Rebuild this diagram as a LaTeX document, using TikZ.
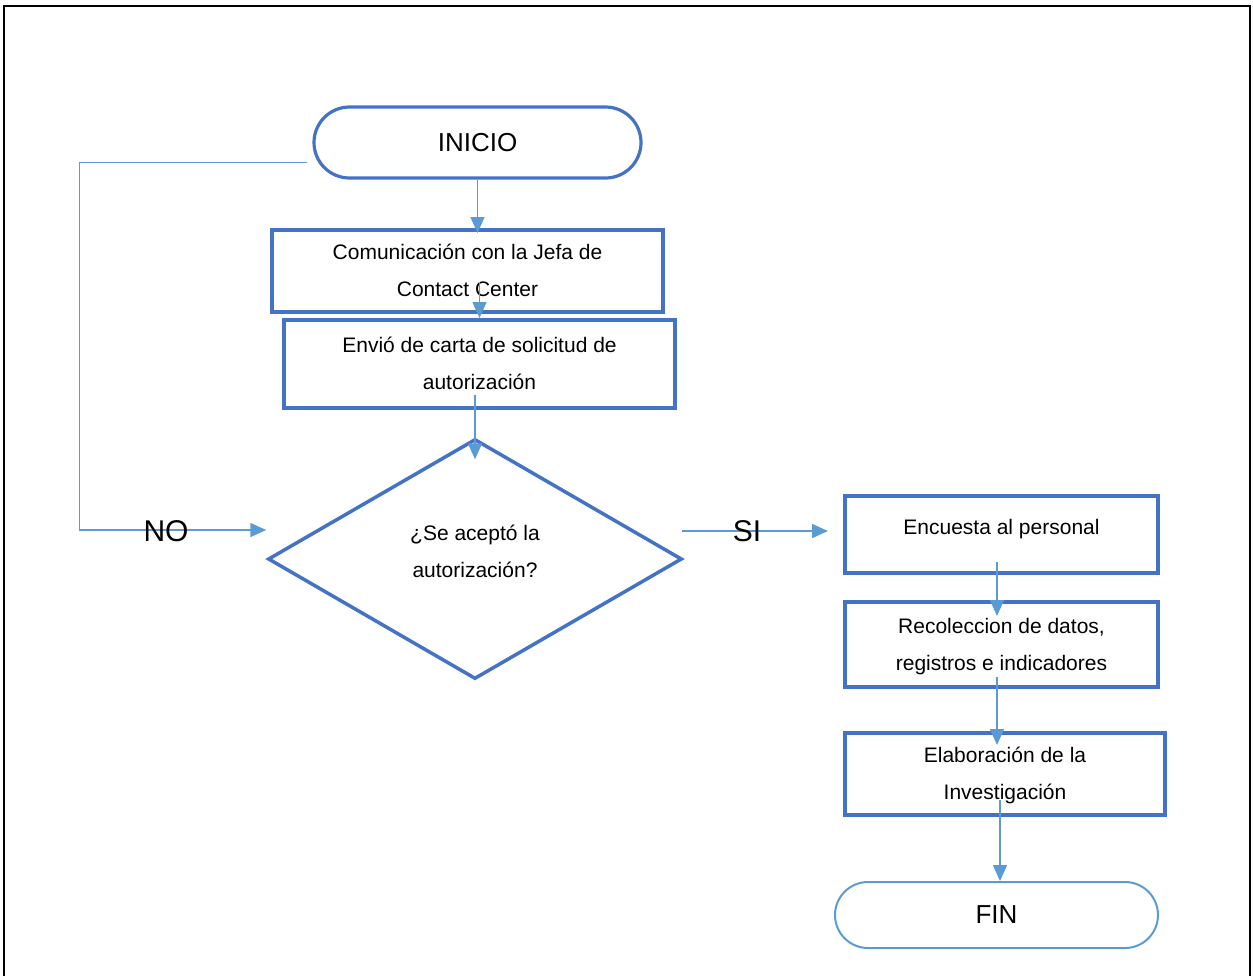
\documentclass[tikz,border=0pt]{standalone}
\usepackage{fontspec}
\setmainfont{Liberation Sans}
\usetikzlibrary{shapes.geometric,shapes.misc,arrows.meta,calc}
\definecolor{boxblue}{HTML}{4472C4}
\definecolor{arrblue}{HTML}{5B9BD5}
\newcommand\celltext[2][0pt]{\raisebox{#1}[\height][\depth]{\begin{tabular}{@{}c@{}}#2\end{tabular}}}
\begin{document}
\begin{tikzpicture}[x={(0.5pt,0)}, y={(0,-0.5pt)},
  procbox/.style={draw=boxblue, line width=2pt, rectangle, inner sep=0pt, font=\fontsize{10.5}{18.5}\selectfont},
  term/.style={rounded rectangle, draw=boxblue, line width=1.6pt, font=\fontsize{13}{15}\selectfont, inner sep=0pt},
  decision/.style={diamond, draw=boxblue, line width=1.75pt, inner sep=0pt, font=\fontsize{10.5}{18.5}\selectfont},
  arr/.style={draw=arrblue, line width=0.75pt, -{Triangle[length=8pt,width=7pt]}},
  lbl/.style={font=\fontsize{15}{17}\selectfont, inner sep=0pt}
]
\useasboundingbox (0,0) rectangle (1253,976);
\draw[line width=0.6pt] (4,976) -- (4,6) -- (1250,6) -- (1250,976);

\node[term, minimum width=163.5pt, minimum height=35.5pt] (inicio) at (477.5,142.5) {INICIO};
\node[procbox, minimum width=195.5pt, minimum height=41pt] (b1) at (467.5,271) {\celltext{Comunicación con la Jefa de\\Contact Center}};
\node[procbox, minimum width=195.5pt, minimum height=44pt] (b2) at (479.5,364) {\celltext{Envió de carta de solicitud de\\autorización}};
\node[decision, minimum width=207pt, minimum height=120pt] (dia) at (475,559) {\celltext[3.75pt]{¿Se aceptó la\\autorización?}};
\node[procbox, minimum width=156.5pt, minimum height=38.5pt] (b3) at (1001.5,534.5) {\celltext[3.75pt]{Encuesta al personal}};
\node[procbox, minimum width=156.5pt, minimum height=42.5pt] (b4) at (1001.5,644.5) {\celltext{Recoleccion de datos,\\registros e indicadores}};
\node[procbox, minimum width=160pt, minimum height=41pt] (b5) at (1005,774) {\celltext{Elaboración de la\\Investigación}};
\node[term, draw=arrblue, line width=1pt, minimum width=161.5pt, minimum height=33pt] (fin) at (996.5,915) {FIN};

\draw[arr] (inicio.south) -- ($(inicio.south |- b1.north)+(0,5)$);
\draw[arr] ($(b2.north |- b1.south)+(0,-32)$) -- (b2.north);
\draw[arr] ($(dia.north |- b2.south)+(0,-15)$) -- ($(dia.north)+(0,22)$);
\draw[arr] ($(inicio.west)+(-5,20)$) -- ++(-228,0) |- ($(dia.west)+(0,-29)$);
\draw[arr] ($(dia.east)+(-2,-28)$) -- ($(b3.west)+(-15,-3.5)$);
\draw[arr] ($(b3.south)+(-4.5,-13)$) -- ($(b4.north)+(-4.5,16)$);
\draw[arr] ($(b4.south)+(-4.5,-12)$) -- ($(b5.north)+(-8,14)$);
\draw[arr] ($(b5.south)+(-5,-17)$) -- ($(fin.north)+(3.5,0)$);

\node[lbl] (no) at (166,531.5) {NO};
\node[lbl] (si) at (747,531) {SI};
\end{tikzpicture}
\end{document}
